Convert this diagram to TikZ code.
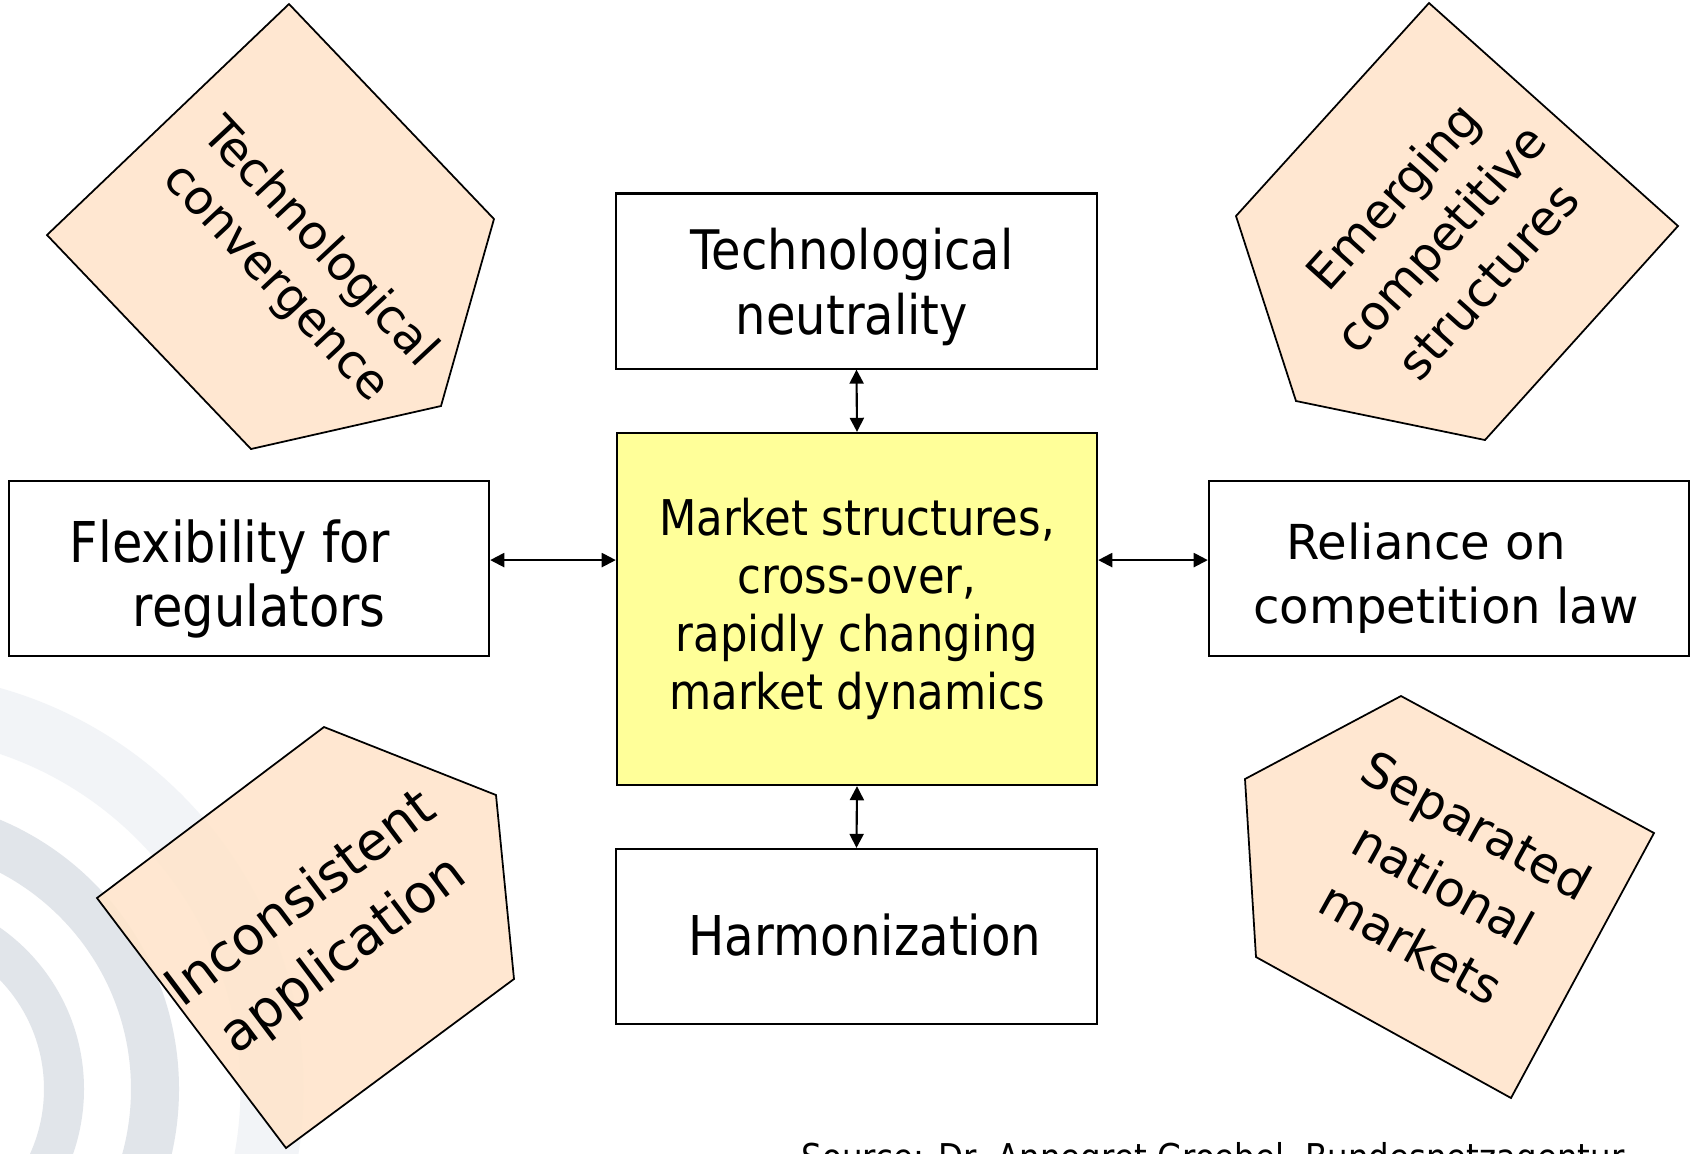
\documentclass[tikz,border=0pt]{standalone}
\usepackage{fontspec}
\setmainfont{DejaVu Sans}[FakeStretch=0.88]
\newfontfamily\widefont{DejaVu Sans}
\usetikzlibrary{arrows.meta,positioning,calc}
\definecolor{peach}{RGB}{255,229,204}
\definecolor{marketyellow}{RGB}{255,255,153}
\definecolor{wmarkgrey}{RGB}{225,229,234}
\definecolor{wmarklight}{RGB}{242,244,247}

\begin{document}
\begin{tikzpicture}[x=0.01cm, y=-0.01cm, >={Triangle[length=4pt,width=4pt]},
    box/.style={draw, line width=0.6pt, inner sep=0pt,
        minimum width=4.8cm, minimum height=1.75cm},
    boxtext/.style={align=center, inner sep=0pt},
    pent/.style={draw, line width=0.5pt, fill=peach, fill opacity=0.9},
    pentlabel/.style={align=center, inner sep=0pt},
    link/.style={<->, line width=0.6pt}]

    % Cadre (pixels de l'image)
    \useasboundingbox (0,0) rectangle (1690,1153);
    \clip (0,0) rectangle (1690,1153);
    \fill[white] (0,0) rectangle (1690,1153);

    % =========================================================================
    % FILIGRANE
    % =========================================================================
    \def\wmX{-113}
    \def\wmY{1089}
    \draw[wmarklight, line width=0.63cm] (\wmX,\wmY) circle[radius=385];
    \draw[wmarkgrey, line width=0.48cm] (\wmX,\wmY) circle[radius=268];
    \draw[wmarkgrey, line width=0.4cm] (\wmX,\wmY) circle[radius=177];

    % =========================================================================
    % PENTAGONES
    % =========================================================================
    \draw[pent] (289,4) -- (494,219) -- (441,406) -- (251,449) -- (47,235) -- cycle;
    \draw[pent] (1429,3) -- (1678,226) -- (1485,440) -- (1296,401) -- (1236,216) -- cycle;
    \draw[pent] (324,727) -- (496,795) -- (514,979) -- (286,1148) -- (97,898) -- cycle;
    \draw[pent] (1401,696) -- (1654,833) -- (1511,1098) -- (1256,957) -- (1245,779) -- cycle;

    \node[pentlabel, rotate=-47, font=\widefont\fontsize{13.5}{16.8}\selectfont]
        (conv) at (297,263) {Technological\\convergence};
    \node[pentlabel, rotate=48, font=\widefont\fontsize{13.7}{18.2}\selectfont]
        (emerg) at (1440,238) {Emerging\\competitive\\structures};
    \node[pentlabel, rotate=37, font=\widefont\fontsize{15}{20}\selectfont]
        (incons) at (323,928) {Inconsistent\\application};
    \node[pentlabel, rotate=-29, font=\widefont\fontsize{13.9}{19.2}\selectfont]
        (separ) at (1444,884) {Separated\\national\\markets};

    % =========================================================================
    % BOITES
    % =========================================================================
    \node[box] (neut) at (856.5,281) {};
    \node[box, fill=marketyellow, minimum height=3.52cm] (market) at (857,609) {};
    \node[box] (harm) at (856.5,936.5) {};
    \node[box] (flex) at (249,568.5) {};
    \node[box] (rel) at (1449,568.5) {};

    \node[boxtext, font=\fontsize{15.5}{18.5}\selectfont] (neuttxt) at (852,286.5)
        {Technological\\neutrality};
    \node[boxtext, font=\fontsize{14}{16.5}\selectfont] (markettxt) at (857,609)
        {Market structures,\\cross-over,\\rapidly changing\\market dynamics};
    \node[boxtext, font=\fontsize{15.6}{18}\selectfont] (harmtxt) at (865,935)
        {Harmonization};
    \node[boxtext, align=left, font=\fontsize{16}{18.2}\selectfont] (flextxt) at (230,578.5)
        {Flexibility for\\\hspace*{0.63cm}regulators};
    \node[boxtext, align=left, font=\widefont\fontsize{13.7}{18.2}\selectfont] (reltxt)
        at (1446,578.5) {\hspace*{0.33cm}Reliance on\\competition law};

    % Liens
    \draw[link] (neut.south) -- (market.north);
    \draw[link] (market.south) -- (harm.north);
    \draw[link] ([yshift=2.4pt]flex.east) -- ([yshift=2.4pt]flex.east -| market.west);
    \draw[link] ([yshift=2.4pt]rel.west) -- ([yshift=2.4pt]rel.west -| market.east);

    % Source
    \node[anchor=base west, inner sep=0pt, font=\fontsize{10.5}{12}\selectfont]
        (source) at (801,1170) {Source: Dr. Annegret Groebel, Bundesnetzagentur};
\end{tikzpicture}
\end{document}
